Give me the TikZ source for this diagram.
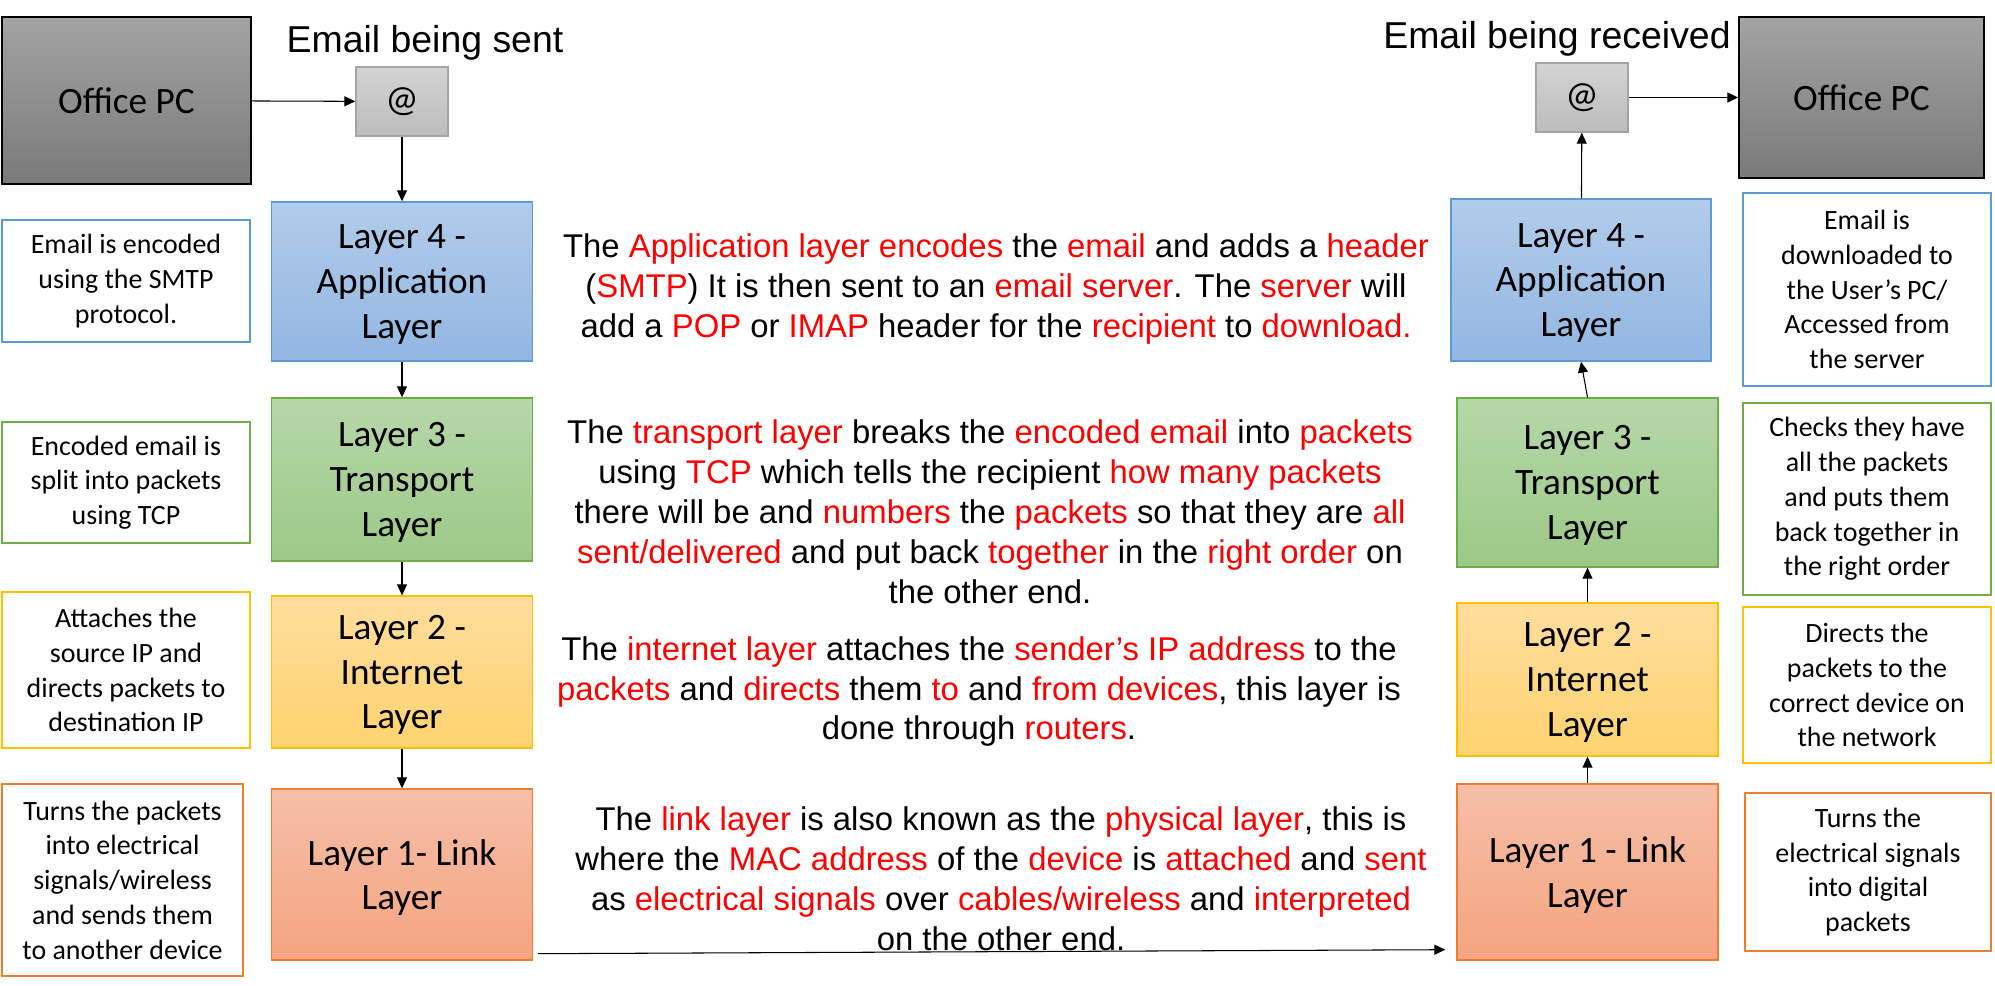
\documentclass[tikz,border=0pt]{standalone}
\usepackage{fontspec}
\setmainfont{Liberation Sans}
\newfontfamily\calibri{Carlito}
\usetikzlibrary{arrows.meta}

\definecolor{pctop}{HTML}{A3A3A3}
\definecolor{pcbot}{HTML}{7A7A7A}
\definecolor{attop}{HTML}{D3D3D3}
\definecolor{atbot}{HTML}{BCBCBC}
\definecolor{atline}{HTML}{A5A5A5}
\definecolor{bluetop}{HTML}{B2CCEA}
\definecolor{bluebot}{HTML}{92B6E2}
\definecolor{blueline}{HTML}{5B9BD5}
\definecolor{greentop}{HTML}{B6D7A9}
\definecolor{greenbot}{HTML}{9CC987}
\definecolor{greenline}{HTML}{70AD47}
\definecolor{yellowtop}{HTML}{FFDD9D}
\definecolor{yellowbot}{HTML}{FFD370}
\definecolor{yellowline}{HTML}{FFC000}
\definecolor{orangetop}{HTML}{F6BFA8}
\definecolor{orangebot}{HTML}{F4A480}
\definecolor{orangeline}{HTML}{ED7D31}

\newcommand{\rd}[1]{\textcolor{red}{#1}}

\begin{document}
\begin{tikzpicture}[x=0.02cm, y=-0.02cm]
\tikzstyle{layer} = [draw, line width=0.8pt, minimum width=5.22cm, align=center, text depth=-0.07cm, font=\calibri\fontsize{21.2}{25.5}\selectfont]
\tikzstyle{note} = [draw, fill=white, line width=1.4pt, minimum width=4.96cm, align=center, font=\calibri\fontsize{15.9}{19.8}\selectfont]
\tikzstyle{para} = [align=center, inner sep=0pt, font=\fontsize{18.7}{22.7}\selectfont]
\tikzstyle{heading} = [anchor=base, inner sep=0pt, font=\fontsize{21.3}{24}\selectfont]
\tikzstyle{pcbox} = [draw=black, line width=0.8pt, top color=pctop, bottom color=pcbot, font=\calibri\fontsize{21.2}{25.5}\selectfont]
\tikzstyle{atbox} = [draw=atline, line width=0.8pt, top color=attop, bottom color=atbot, minimum width=1.84cm, minimum height=1.38cm, font=\calibri\fontsize{21.2}{25.5}\selectfont]
\tikzstyle{arr} = [-{Triangle[length=0.22cm,width=0.2cm]}, line width=0.6pt]
\useasboundingbox (0,0) rectangle (1995,985);

% sending side
\node [pcbox, minimum width=4.98cm, minimum height=3.34cm] (pcL) at (126.5,100.5) {Office PC};
\node [atbox] (atL) at (402,101.5) {@};
\node [heading] (sent) at (425,52) {Email being sent};

\node [layer, draw=blueline, top color=bluetop, bottom color=bluebot, minimum height=3.18cm] (l4) at (402,281.5) {Layer 4 -\\Application\\Layer};
\node [layer, draw=greenline, top color=greentop, bottom color=greenbot, minimum height=3.26cm] (l3) at (402,479.5) {Layer 3 -\\Transport\\Layer};
\node [layer, draw=yellowline, top color=yellowtop, bottom color=yellowbot, minimum height=3.04cm] (l2) at (402,672) {Layer 2 -\\Internet\\Layer};
\node [layer, draw=orangeline, top color=orangetop, bottom color=orangebot, minimum height=3.42cm] (l1) at (402,874.5) {Layer 1- Link\\Layer};

\node [note, draw=blueline, minimum height=2.44cm] (n4) at (126,281) {Email is encoded\\using the SMTP\\protocol.};
\node [note, draw=greenline, minimum height=2.42cm] (n3) at (126,482.5) {Encoded email is\\split into packets\\using TCP};
\node [note, draw=yellowline, minimum height=3.12cm] (n2) at (126,670) {Attaches the\\source IP and\\directs packets to\\destination IP};
\node [note, draw=orangeline, minimum width=4.82cm, minimum height=3.84cm] (n1) at (122.5,880) {Turns the packets\\into electrical\\signals/wireless\\and sends them\\to another device};

% receiving side
\node [pcbox, minimum width=4.9cm, minimum height=3.22cm] (pcR) at (1861.5,97.5) {Office PC};
\node [atbox] (atR) at (1582,97.5) {@};
\node [heading] (recv) at (1557,48) {Email being received};

\node [layer, draw=blueline, top color=bluetop, bottom color=bluebot, minimum width=5.2cm, minimum height=3.24cm] (r4) at (1581,280) {Layer 4 -\\Application\\Layer};
\node [layer, draw=greenline, top color=greentop, bottom color=greenbot, minimum height=3.38cm] (r3) at (1587.5,482.5) {Layer 3 -\\Transport\\Layer};
\node [layer, draw=yellowline, top color=yellowtop, bottom color=yellowbot, minimum height=3.06cm] (r2) at (1587.5,679.5) {Layer 2 -\\Internet\\Layer};
\node [layer, draw=orangeline, top color=orangetop, bottom color=orangebot, minimum height=3.52cm] (r1) at (1587.5,872) {Layer 1 - Link\\Layer};

\node [note, draw=blueline, minimum height=3.86cm] (m4) at (1867,289.5) {Email is\\downloaded to\\the User’s PC/\\Accessed from\\the server};
\node [note, draw=greenline, minimum height=3.84cm] (m3) at (1867,499) {Checks they have\\all the packets\\and puts them\\back together in\\the right order};
\node [note, draw=yellowline, minimum height=3.12cm] (m2) at (1867,685) {Directs the\\packets to the\\correct device on\\the network};
\node [note, draw=orangeline, minimum width=4.92cm, minimum height=3.16cm] (m1) at (1868,872) {Turns the\\electrical signals\\into digital\\packets};

% explanations
\node [para] (txtapp) at (996,289) {The \rd{Application layer encodes} the \rd{email} and adds a \rd{header}\\(\rd{SMTP}) It is then sent to an \rd{email server}. The \rd{server} will\\add a \rd{POP} or \rd{IMAP} header for the \rd{recipient} to \rd{download.}};
\node [para] (txttrans) at (990,511.5) {The \rd{transport layer} breaks the \rd{encoded email} into \rd{packets}\\using \rd{TCP} which tells the recipient \rd{how many packets}\\there will be and \rd{numbers} the \rd{packets} so that they are \rd{all}\\\rd{sent/delivered} and put back \rd{together} in the \rd{right order} on\\the other end.};
\node [para] (txtnet) at (979,691.5) {The \rd{internet layer} attaches the \rd{sender’s IP address} to the\\\rd{packets} and \rd{directs} them \rd{to} and \rd{from devices}, this layer is\\done through \rd{routers}.};
\node [para] (txtlink) at (1001,879) {The \rd{link layer} is also known as the \rd{physical layer}, this is\\where the \rd{MAC address} of the \rd{device} is \rd{attached} and \rd{sent}\\as \rd{electrical signals} over \rd{cables/wireless} and \rd{interpreted}\\on the other end.};

\draw [arr] (pcL) -- (atL);
\draw [arr] (atL) -- (l4);
\draw [arr] (l4) -- (l3);
\draw [arr] (l3) -- (l2);
\draw [arr] (l2) -- (l1);
\draw [arr] ([xshift=0.1cm, yshift=0.14cm]l1.south east) -- ([xshift=-0.22cm, yshift=0.22cm]r1.south west);
\draw [arr] (r1) -- (r2);
\draw [arr] (r2) -- (r3);
\draw [arr] (r3.north) -- (r4.south);
\draw [arr] (r4) -- (atR);
\draw [arr] (atR) -- (pcR);
\end{tikzpicture}
\end{document}
